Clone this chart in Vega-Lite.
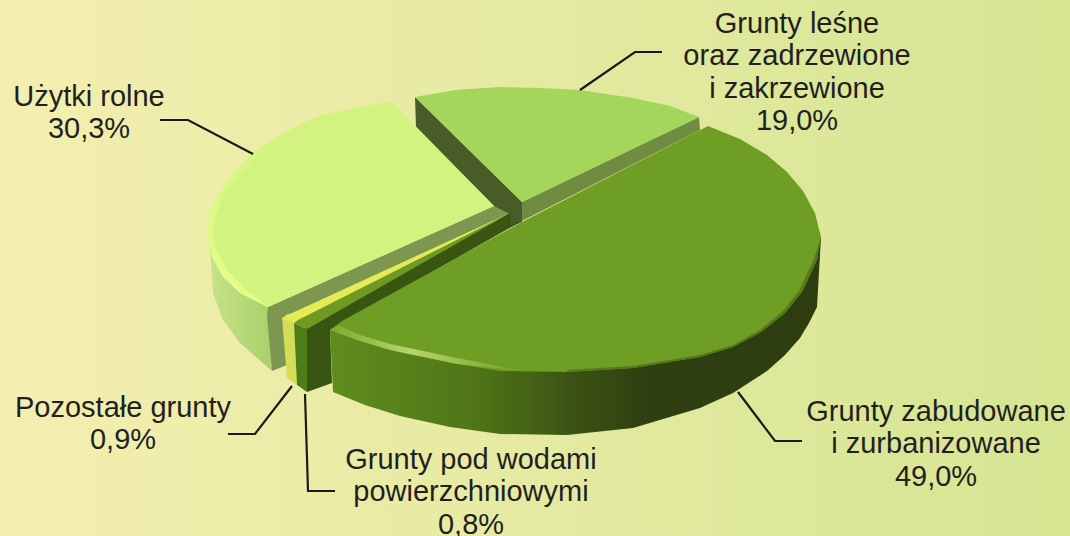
{"$schema":"https://vega.github.io/schema/vega-lite/v6.json","width":1070,"height":536,"autosize":{"type":"none"},"padding":0,"config":{"view":{"stroke":null}},
"datasets":{
"slices":[
{"name":"Grunty leśne oraz zadrzewione i zakrzewione","percent":19.0,"label":"Grunty leśne\noraz zadrzewione\ni zakrzewione\n19,0%"},
{"name":"Użytki rolne","percent":30.3,"label":"Użytki rolne\n30,3%"},
{"name":"Grunty zabudowane i zurbanizowane","percent":49.0,"label":"Grunty zabudowane\ni zurbanizowane\n49,0%"},
{"name":"Pozostałe grunty","percent":0.9,"label":"Pozostałe grunty\n0,9%"},
{"name":"Grunty pod wodami powierzchniowymi","percent":0.8,"label":"Grunty pod wodami\npowierzchniowymi\n0,8%"}],
"outlines":[
{"part":"rimBig","seq":1,"x":330,"y":330},{"part":"rimBig","seq":2,"x":333,"y":392},{"part":"rimBig","seq":3,"x":365,"y":405},{"part":"rimBig","seq":4,"x":400,"y":416},{"part":"rimBig","seq":5,"x":450,"y":427},{"part":"rimBig","seq":6,"x":500,"y":434},{"part":"rimBig","seq":7,"x":567,"y":435},{"part":"rimBig","seq":8,"x":633,"y":428},{"part":"rimBig","seq":9,"x":700,"y":408},{"part":"rimBig","seq":10,"x":733,"y":393},{"part":"rimBig","seq":11,"x":767,"y":371},{"part":"rimBig","seq":12,"x":785,"y":355},{"part":"rimBig","seq":13,"x":800,"y":338},{"part":"rimBig","seq":14,"x":809,"y":323},{"part":"rimBig","seq":15,"x":817,"y":307},{"part":"rimBig","seq":16,"x":821,"y":237},
{"part":"rimFarm","seq":1,"x":207,"y":230},{"part":"rimFarm","seq":2,"x":210,"y":247},{"part":"rimFarm","seq":3,"x":213,"y":293},{"part":"rimFarm","seq":4,"x":223,"y":320},{"part":"rimFarm","seq":5,"x":240,"y":343},{"part":"rimFarm","seq":6,"x":272,"y":371},{"part":"rimFarm","seq":7,"x":268,"y":307},
{"part":"cutForestLeft","seq":1,"x":415,"y":97},{"part":"cutForestLeft","seq":2,"x":522,"y":202},{"part":"cutForestLeft","seq":3,"x":522,"y":222},{"part":"cutForestLeft","seq":4,"x":500,"y":232},{"part":"cutForestLeft","seq":5,"x":494,"y":206},{"part":"cutForestLeft","seq":6,"x":416,"y":128},
{"part":"cutForestRight","seq":1,"x":522,"y":202},{"part":"cutForestRight","seq":2,"x":699,"y":117},{"part":"cutForestRight","seq":3,"x":700,"y":130},{"part":"cutForestRight","seq":4,"x":522,"y":221},
{"part":"cutFarm","seq":1,"x":268,"y":307},{"part":"cutFarm","seq":2,"x":494,"y":206},{"part":"cutFarm","seq":3,"x":510,"y":214},{"part":"cutFarm","seq":4,"x":283,"y":318},{"part":"cutFarm","seq":5,"x":287,"y":365},{"part":"cutFarm","seq":6,"x":272,"y":371},{"part":"cutFarm","seq":7,"x":267,"y":316},
{"part":"topFarm","seq":1,"x":392,"y":102},{"part":"topFarm","seq":2,"x":494,"y":206},{"part":"topFarm","seq":3,"x":268,"y":307},{"part":"topFarm","seq":4,"x":240,"y":293},{"part":"topFarm","seq":5,"x":223,"y":277},{"part":"topFarm","seq":6,"x":212,"y":257},{"part":"topFarm","seq":7,"x":207,"y":230},{"part":"topFarm","seq":8,"x":210,"y":213},{"part":"topFarm","seq":9,"x":216,"y":199},{"part":"topFarm","seq":10,"x":225,"y":184},{"part":"topFarm","seq":11,"x":238,"y":168},{"part":"topFarm","seq":12,"x":253,"y":153},{"part":"topFarm","seq":13,"x":270,"y":141},{"part":"topFarm","seq":14,"x":290,"y":130},{"part":"topFarm","seq":15,"x":305,"y":122},{"part":"topFarm","seq":16,"x":323,"y":115},{"part":"topFarm","seq":17,"x":358,"y":107},
{"part":"topForest","seq":1,"x":415,"y":97},{"part":"topForest","seq":2,"x":522,"y":202},{"part":"topForest","seq":3,"x":699,"y":117},{"part":"topForest","seq":4,"x":670,"y":106},{"part":"topForest","seq":5,"x":633,"y":98},{"part":"topForest","seq":6,"x":580,"y":90},{"part":"topForest","seq":7,"x":540,"y":88},{"part":"topForest","seq":8,"x":500,"y":87},{"part":"topForest","seq":9,"x":455,"y":90},
{"part":"rimOther","seq":1,"x":282,"y":317},{"part":"rimOther","seq":2,"x":294,"y":322},{"part":"rimOther","seq":3,"x":297,"y":385},{"part":"rimOther","seq":4,"x":287,"y":378},
{"part":"topOther","seq":1,"x":282,"y":319},{"part":"topOther","seq":2,"x":286,"y":315},{"part":"topOther","seq":3,"x":292,"y":313},{"part":"topOther","seq":4,"x":510,"y":213},{"part":"topOther","seq":5,"x":294,"y":323},
{"part":"cutWater","seq":1,"x":305,"y":328},{"part":"cutWater","seq":2,"x":510,"y":213},{"part":"cutWater","seq":3,"x":511,"y":225},{"part":"cutWater","seq":4,"x":522,"y":221},{"part":"cutWater","seq":5,"x":330,"y":330},{"part":"cutWater","seq":6,"x":332,"y":383},{"part":"cutWater","seq":7,"x":307,"y":392},
{"part":"rimWater","seq":1,"x":294,"y":323},{"part":"rimWater","seq":2,"x":307,"y":329},{"part":"rimWater","seq":3,"x":307,"y":392},{"part":"rimWater","seq":4,"x":297,"y":385},
{"part":"topWater","seq":1,"x":294,"y":323},{"part":"topWater","seq":2,"x":298,"y":320},{"part":"topWater","seq":3,"x":510,"y":213},{"part":"topWater","seq":4,"x":307,"y":329},
{"part":"topBig","seq":1,"x":708,"y":126},{"part":"topBig","seq":2,"x":740,"y":139},{"part":"topBig","seq":3,"x":767,"y":155},{"part":"topBig","seq":4,"x":787,"y":172},{"part":"topBig","seq":5,"x":803,"y":191},{"part":"topBig","seq":6,"x":815,"y":213},{"part":"topBig","seq":7,"x":821,"y":237},{"part":"topBig","seq":8,"x":817,"y":260},{"part":"topBig","seq":9,"x":802,"y":292},{"part":"topBig","seq":10,"x":785,"y":313},{"part":"topBig","seq":11,"x":761,"y":332},{"part":"topBig","seq":12,"x":733,"y":347},{"part":"topBig","seq":13,"x":700,"y":357},{"part":"topBig","seq":14,"x":633,"y":368},{"part":"topBig","seq":15,"x":567,"y":372},{"part":"topBig","seq":16,"x":500,"y":371},{"part":"topBig","seq":17,"x":457,"y":364},{"part":"topBig","seq":18,"x":390,"y":350},{"part":"topBig","seq":19,"x":357,"y":340},{"part":"topBig","seq":20,"x":330,"y":330},{"part":"topBig","seq":21,"x":342,"y":321},{"part":"topBig","seq":22,"x":522,"y":222},
{"part":"bevelFarm","seq":1,"x":300,"y":125},{"part":"bevelFarm","seq":2,"x":270,"y":141},{"part":"bevelFarm","seq":3,"x":253,"y":153},{"part":"bevelFarm","seq":4,"x":238,"y":168},{"part":"bevelFarm","seq":5,"x":225,"y":184},{"part":"bevelFarm","seq":6,"x":216,"y":199},{"part":"bevelFarm","seq":7,"x":210,"y":213},{"part":"bevelFarm","seq":8,"x":207,"y":232},{"part":"bevelFarm","seq":9,"x":212,"y":257},{"part":"bevelFarm","seq":10,"x":223,"y":277},{"part":"bevelFarm","seq":11,"x":240,"y":293},{"part":"bevelFarm","seq":12,"x":268,"y":307},{"part":"bevelFarm","seq":13,"x":245,"y":289},{"part":"bevelFarm","seq":14,"x":228,"y":271},{"part":"bevelFarm","seq":15,"x":217,"y":252},{"part":"bevelFarm","seq":16,"x":212,"y":231},{"part":"bevelFarm","seq":17,"x":216,"y":213},{"part":"bevelFarm","seq":18,"x":228,"y":189},{"part":"bevelFarm","seq":19,"x":256,"y":157},
{"part":"bevelBig","seq":1,"x":330,"y":330},{"part":"bevelBig","seq":2,"x":357,"y":340},{"part":"bevelBig","seq":3,"x":390,"y":350},{"part":"bevelBig","seq":4,"x":457,"y":364},{"part":"bevelBig","seq":5,"x":530,"y":372},{"part":"bevelBig","seq":6,"x":457,"y":358},{"part":"bevelBig","seq":7,"x":390,"y":344},{"part":"bevelBig","seq":8,"x":357,"y":334},{"part":"bevelBig","seq":9,"x":338,"y":325},
{"part":"bevelDark","seq":1,"x":821,"y":237},{"part":"bevelDark","seq":2,"x":817,"y":260},{"part":"bevelDark","seq":3,"x":802,"y":292},{"part":"bevelDark","seq":4,"x":785,"y":313},{"part":"bevelDark","seq":5,"x":761,"y":332},{"part":"bevelDark","seq":6,"x":733,"y":347},{"part":"bevelDark","seq":7,"x":700,"y":357},{"part":"bevelDark","seq":8,"x":633,"y":368},{"part":"bevelDark","seq":9,"x":567,"y":372},{"part":"bevelDark","seq":10,"x":567,"y":370},{"part":"bevelDark","seq":11,"x":633,"y":366},{"part":"bevelDark","seq":12,"x":700,"y":355},{"part":"bevelDark","seq":13,"x":733,"y":345},{"part":"bevelDark","seq":14,"x":760,"y":330},{"part":"bevelDark","seq":15,"x":783,"y":311},{"part":"bevelDark","seq":16,"x":799,"y":291},{"part":"bevelDark","seq":17,"x":814,"y":259}],
"leaders":[
{"line":"forest","seq":1,"x":580,"y":90},{"line":"forest","seq":2,"x":635,"y":52},{"line":"forest","seq":3,"x":662,"y":52},
{"line":"farm","seq":1,"x":253,"y":154},{"line":"farm","seq":2,"x":188,"y":120},{"line":"farm","seq":3,"x":160,"y":120},
{"line":"built","seq":1,"x":738,"y":392},{"line":"built","seq":2,"x":775,"y":441},{"line":"built","seq":3,"x":802,"y":441},
{"line":"other","seq":1,"x":292,"y":386},{"line":"other","seq":2,"x":255,"y":434},{"line":"other","seq":3,"x":228,"y":434},
{"line":"water","seq":1,"x":305,"y":394},{"line":"water","seq":2,"x":308,"y":491},{"line":"water","seq":3,"x":335,"y":491}]},
"encoding":{"x":{"type":"quantitative","scale":{"domain":[0,1070],"nice":false,"zero":false},"axis":null},"y":{"type":"quantitative","scale":{"domain":[536,0],"nice":false,"zero":false},"axis":null}},
"layer":[
{"data":{"values":[{"a":1}]},"mark":{"type":"rect","fill":{"gradient":"linear","x1":0,"y1":0,"x2":1,"y2":0,"stops":[{"offset":0,"color":"#f4efb0"},{"offset":1,"color":"#d5e592"}]}},"encoding":{"x":{"datum":0},"x2":{"datum":1070},"y":{"datum":0},"y2":{"datum":536}}},
{"data":{"name":"outlines"},"transform":[{"filter":"datum.part==='rimBig'"}],"mark":{"type":"line","strokeWidth":0,"fill":{"gradient":"linear","x1":0,"y1":0,"x2":1,"y2":0,"stops":[{"offset":0,"color":"#5f8d1d"},{"offset":0.3,"color":"#4f7518"},{"offset":0.5,"color":"#3a5213"},{"offset":0.65,"color":"#2f3f10"},{"offset":1,"color":"#2e3d10"}]}},"encoding":{"x":{"field":"x","type":"quantitative"},"y":{"field":"y","type":"quantitative"},"order":{"field":"seq"}}},
{"data":{"name":"outlines"},"transform":[{"filter":"datum.part==='rimFarm'"}],"mark":{"type":"line","strokeWidth":0,"fill":{"gradient":"linear","x1":0,"y1":0,"x2":1,"y2":0,"stops":[{"offset":0,"color":"#c8e488"},{"offset":1,"color":"#a9d06c"}]}},"encoding":{"x":{"field":"x","type":"quantitative"},"y":{"field":"y","type":"quantitative"},"order":{"field":"seq"}}},
{"data":{"name":"outlines"},"transform":[{"filter":"indexof(['rimBig','rimFarm','bevelFarm','bevelBig','bevelDark'],datum.part)<0"}],"mark":{"type":"line","strokeWidth":0},"encoding":{"x":{"field":"x","type":"quantitative"},"y":{"field":"y","type":"quantitative"},"order":{"field":"seq"},"detail":{"field":"part"},"fill":{"field":"part","type":"nominal","legend":null,"scale":{"domain":["cutForestLeft","cutForestRight","cutFarm","topFarm","topForest","rimOther","topOther","cutWater","rimWater","topWater","topBig"],"range":["#485c28","#6f8c40","#7d9650","#d2f380","#a5d65c","#d4dc58","#e3ec55","#385512","#4d7c18","#6e9a24","#6f9e24"]}}}},
{"data":{"name":"outlines"},"transform":[{"filter":"datum.part==='bevelFarm'"}],"mark":{"type":"line","strokeWidth":0,"fill":{"gradient":"linear","x1":0,"y1":0,"x2":0,"y2":1,"stops":[{"offset":0,"color":"#d2f380"},{"offset":0.5,"color":"#def985"},{"offset":1,"color":"#e6fe88"}]}},"encoding":{"x":{"field":"x","type":"quantitative"},"y":{"field":"y","type":"quantitative"},"order":{"field":"seq"}}},
{"data":{"name":"outlines"},"transform":[{"filter":"datum.part==='bevelBig'"}],"mark":{"type":"line","strokeWidth":0,"fill":{"gradient":"linear","x1":0,"y1":0,"x2":1,"y2":0,"stops":[{"offset":0,"color":"#7fa830"},{"offset":0.4,"color":"#b5d56a"},{"offset":1,"color":"#6f9e24"}]}},"encoding":{"x":{"field":"x","type":"quantitative"},"y":{"field":"y","type":"quantitative"},"order":{"field":"seq"}}},
{"data":{"name":"outlines"},"transform":[{"filter":"datum.part==='bevelDark'"}],"mark":{"type":"line","strokeWidth":0,"fill":"#54781c"},"encoding":{"x":{"field":"x","type":"quantitative"},"y":{"field":"y","type":"quantitative"},"order":{"field":"seq"}}},
{"data":{"name":"leaders"},"mark":{"type":"line","stroke":"#1a1a1a","strokeWidth":2.2},"encoding":{"x":{"field":"x","type":"quantitative"},"y":{"field":"y","type":"quantitative"},"order":{"field":"seq"},"detail":{"field":"line"}}},
{"data":{"name":"slices"},"transform":[{"filter":"datum.percent===19"}],"mark":{"type":"text","font":"Liberation Sans","fontSize":29,"lineBreak":"\n","lineHeight":32.3,"align":"center","baseline":"middle","color":"#231f20"},"encoding":{"text":{"field":"label"},"x":{"datum":797},"y":{"datum":24}}},
{"data":{"name":"slices"},"transform":[{"filter":"datum.percent===30.3"}],"mark":{"type":"text","font":"Liberation Sans","fontSize":29,"lineBreak":"\n","lineHeight":32.3,"align":"center","baseline":"middle","color":"#231f20"},"encoding":{"text":{"field":"label"},"x":{"datum":89},"y":{"datum":97}}},
{"data":{"name":"slices"},"transform":[{"filter":"datum.percent===49"}],"mark":{"type":"text","font":"Liberation Sans","fontSize":29,"lineBreak":"\n","lineHeight":32.3,"align":"center","baseline":"middle","color":"#231f20"},"encoding":{"text":{"field":"label"},"x":{"datum":936},"y":{"datum":412}}},
{"data":{"name":"slices"},"transform":[{"filter":"datum.percent===0.9"}],"mark":{"type":"text","font":"Liberation Sans","fontSize":29,"lineBreak":"\n","lineHeight":32.3,"align":"center","baseline":"middle","color":"#231f20"},"encoding":{"text":{"field":"label"},"x":{"datum":123},"y":{"datum":408}}},
{"data":{"name":"slices"},"transform":[{"filter":"datum.percent===0.8"}],"mark":{"type":"text","font":"Liberation Sans","fontSize":29,"lineBreak":"\n","lineHeight":32.3,"align":"center","baseline":"middle","color":"#231f20"},"encoding":{"text":{"field":"label"},"x":{"datum":471},"y":{"datum":460}}}
]}
